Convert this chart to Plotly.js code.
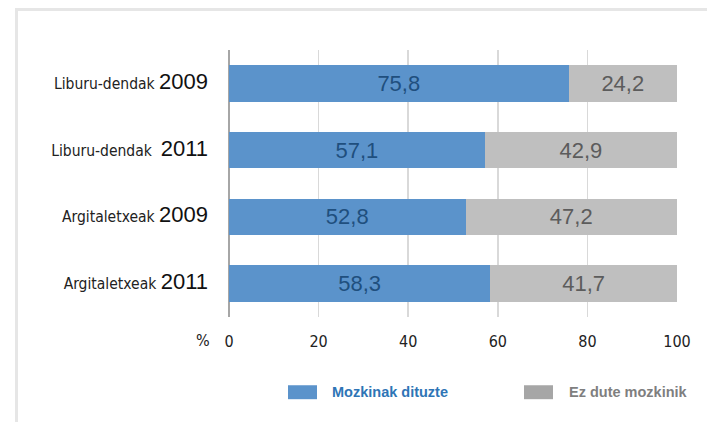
<!DOCTYPE html>
<html>
<head>
<meta charset="utf-8">
<script src="https://cdn.plot.ly/plotly-3.0.1.min.js"></script>
<style>
html,body{margin:0;padding:0;background:#fff;}
#wrap{position:relative;width:707px;height:422px;overflow:hidden;}
#frame{position:absolute;left:15px;top:8px;width:720px;height:440px;border-left:3px solid #e6e6e6;border-top:3px solid #e6e6e6;pointer-events:none;}
#chart{position:absolute;left:0;top:0;width:707px;height:422px;}
</style>
</head>
<body>
<div id="wrap">
<div id="chart"></div>
<div id="frame"></div>
</div>
<script>
const categoryNames = ['Liburu-dendak', 'Liburu-dendak&nbsp;', 'Argitaletxeak', 'Argitaletxeak'];
const categoryYears = ['2009', '2011', '2009', '2011'];
const categories = ['Liburu-dendak 2009', 'Liburu-dendak 2011', 'Argitaletxeak 2009', 'Argitaletxeak 2011'];
const mozkinakDituzte = [75.8, 57.1, 52.8, 58.3];
const ezDuteMozkinik = [24.2, 42.9, 47.2, 41.7];
const seriesNames = ['Mozkinak dituzte', 'Ez dute mozkinik'];
const xTicks = [0, 20, 40, 60, 80, 100];

const narrow = "'DejaVu Sans Condensed', sans-serif";
const tickText = categories.map((c, i) =>
  categoryNames[i] + '&nbsp;<span style="font-family:\'Liberation Sans\';font-size:22px;fill:#111">' + categoryYears[i] + '</span>');

const traces = [
  {
    type: 'bar', orientation: 'h', name: seriesNames[0],
    y: categories, x: mozkinakDituzte,
    marker: {color: '#5b93cb'},
    texttemplate: '%{x:.1f}', textposition: 'inside', insidetextanchor: 'middle',
    textfont: {family: "'Liberation Sans', Arial, sans-serif", size: 22, color: '#1f4f7e'},
    width: 0.55, hoverinfo: 'none'
  },
  {
    type: 'bar', orientation: 'h', name: seriesNames[1],
    y: categories, x: ezDuteMozkinik,
    marker: {color: '#bfbfbf'},
    texttemplate: '%{x:.1f}', textposition: 'inside', insidetextanchor: 'middle',
    textfont: {family: "'Liberation Sans', Arial, sans-serif", size: 22, color: '#5c5c5c'},
    width: 0.55, hoverinfo: 'none'
  }
];

const W = 448, H = 268, L = 229, T = 49.5;
function px(x){ return (x - L) / W; }
function py(y){ return (T + H - y) / H; }

const layout = {
  width: 707, height: 422,
  margin: {l: 229, r: 30, t: 49.5, b: 104.5, pad: 0},
  barmode: 'stack',
  separators: ',.',
  showlegend: false,
  paper_bgcolor: '#ffffff', plot_bgcolor: '#ffffff',
  font: {family: narrow, color: '#222'},
  xaxis: {
    range: [0, 100], tickvals: xTicks, ticktext: xTicks.map(String),
    showgrid: true, gridcolor: '#d9d9d9', gridwidth: 1.5,
    zeroline: true, zerolinecolor: '#a6a6a6', zerolinewidth: 1.5,
    showline: false, ticks: '',
    tickfont: {family: narrow, size: 16, color: '#222'},
    ticklabelstandoff: 13, fixedrange: true
  },
  yaxis: {
    type: 'category', categoryorder: 'array', categoryarray: categories,
    autorange: 'reversed',
    tickmode: 'array', tickvals: categories, ticktext: tickText,
    showgrid: false, zeroline: false, showline: false, ticks: '',
    tickfont: {family: narrow, size: 15.5, color: '#222'},
    ticklabelstandoff: 20, fixedrange: true
  },
  shapes: [
    {type: 'rect', xref: 'paper', yref: 'paper', x0: px(288), x1: px(317), y0: py(400), y1: py(386), fillcolor: '#5b93cb', line: {width: 0}},
    {type: 'rect', xref: 'paper', yref: 'paper', x0: px(524), x1: px(553), y0: py(400), y1: py(386), fillcolor: '#a6a6a6', line: {width: 0}}
  ],
  annotations: [
    {text: '%', xref: 'paper', yref: 'paper', x: px(203), y: py(341), xanchor: 'center', yanchor: 'middle', showarrow: false, font: {family: narrow, size: 16, color: '#222'}},
    {text: '<b>' + seriesNames[0] + '</b>', xref: 'paper', yref: 'paper', x: px(330), y: py(393), xanchor: 'left', yanchor: 'middle', showarrow: false, font: {family: "'Liberation Sans', Arial, sans-serif", size: 14.5, color: '#2e75b6'}},
    {text: '<b>' + seriesNames[1] + '</b>', xref: 'paper', yref: 'paper', x: px(567), y: py(393), xanchor: 'left', yanchor: 'middle', showarrow: false, font: {family: "'Liberation Sans', Arial, sans-serif", size: 14.5, color: '#7f7f7f'}}
  ]
};

Plotly.newPlot('chart', traces, layout, {displayModeBar: false, staticPlot: true});
</script>
</body>
</html>
